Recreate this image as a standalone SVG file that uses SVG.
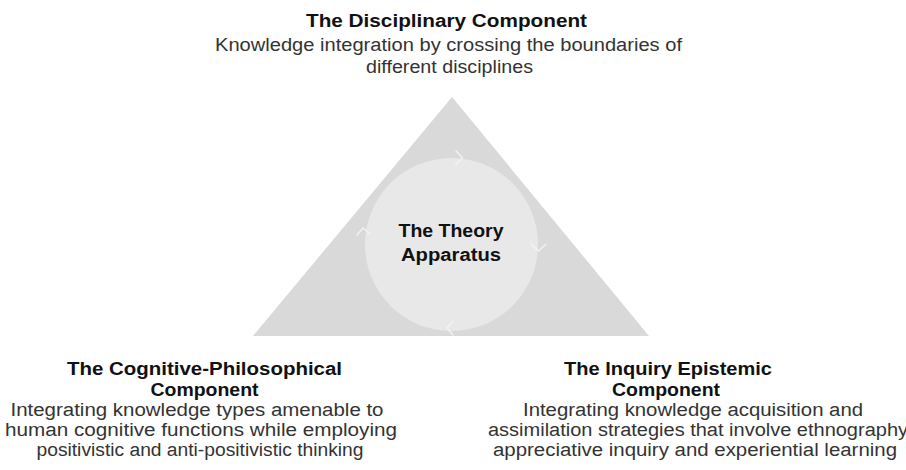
<svg xmlns="http://www.w3.org/2000/svg" width="906" height="470" viewBox="0 0 906 470">
<style>
.h{font-family:"Liberation Sans",Arial,sans-serif;font-weight:bold;font-size:17.5px;fill:#111;text-anchor:middle}
.b{font-family:"Liberation Sans",Arial,sans-serif;font-size:18px;fill:#333;text-anchor:middle}
.chev{fill:none;stroke:#f4f4f4;stroke-width:1.2;stroke-linecap:round;stroke-linejoin:round}
</style>
<rect width="906" height="470" fill="#ffffff"/>
<g id="triangle">
<polygon points="452,97 649,336 253,336" fill="#d9d9d9"/>
</g>
<g id="theory-apparatus">
<circle cx="451.5" cy="244.5" r="86.5" fill="#e8e8e8"/>
<text class="h" x="451" y="237" textLength="105" lengthAdjust="spacingAndGlyphs">The Theory</text>
<text class="h" x="451" y="261" textLength="100" lengthAdjust="spacingAndGlyphs">Apparatus</text>
</g>
<g id="connectors">
<polyline class="chev" points="456,151 462.5,158 455.5,165"/>
<polyline class="chev" points="531,244 538.5,251 546,244"/>
<polyline class="chev" points="453,321 447,328 453,335"/>
<polyline class="chev" points="357,235 363,228 370,234"/>
</g>
<g id="disciplinary-component">
<text class="h" x="446.5" y="27" textLength="281" lengthAdjust="spacingAndGlyphs">The Disciplinary Component</text>
<text class="b" x="448.5" y="51" textLength="467" lengthAdjust="spacingAndGlyphs">Knowledge integration by crossing the boundaries of</text>
<text class="b" x="449.5" y="73" textLength="167" lengthAdjust="spacingAndGlyphs">different disciplines</text>
</g>
<g id="cognitive-philosophical-component">
<text class="h" x="204.5" y="375" textLength="275" lengthAdjust="spacingAndGlyphs">The Cognitive-Philosophical</text>
<text class="h" x="204.5" y="396" textLength="108" lengthAdjust="spacingAndGlyphs">Component</text>
<text class="b" x="197" y="416" textLength="373" lengthAdjust="spacingAndGlyphs">Integrating knowledge types amenable to</text>
<text class="b" x="201" y="436" textLength="392" lengthAdjust="spacingAndGlyphs">human cognitive functions while employing</text>
<text class="b" x="200" y="456" textLength="327" lengthAdjust="spacingAndGlyphs">positivistic and anti-positivistic thinking</text>
</g>
<g id="inquiry-epistemic-component">
<text class="h" x="668" y="375" textLength="208" lengthAdjust="spacingAndGlyphs">The Inquiry Epistemic</text>
<text class="h" x="666" y="396" textLength="108" lengthAdjust="spacingAndGlyphs">Component</text>
<text class="b" x="693" y="416" textLength="340" lengthAdjust="spacingAndGlyphs">Integrating knowledge acquisition and</text>
<text class="b" x="698" y="436" textLength="420" lengthAdjust="spacingAndGlyphs">assimilation strategies that involve ethnography</text>
<text class="b" x="695" y="456" textLength="404" lengthAdjust="spacingAndGlyphs">appreciative inquiry and experiential learning</text>
</g>
</svg>
